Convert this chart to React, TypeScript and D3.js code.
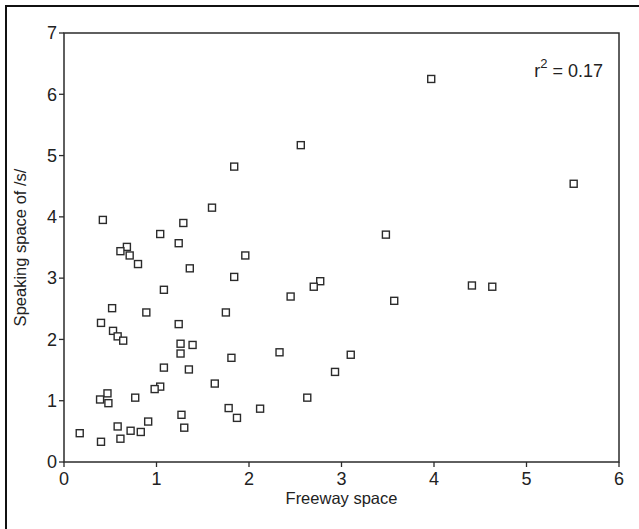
import React from 'react';
import * as d3 from 'd3';

const width = 639;
const height = 529;
const margin = { top: 33, right: 20, bottom: 67, left: 64 };

// freeway space (x) and speaking space of /s/ (y)
const freeway = [
  1.60, 0.42, 1.29, 1.04, 1.24, 0.68, 0.61, 0.71, 1.96, 0.80,
  1.36, 1.84, 1.08, 0.52, 0.89, 1.75, 0.40, 1.24, 0.53, 0.58,
  0.64, 1.26, 1.39, 1.26, 1.81, 1.08, 1.35, 1.63, 1.04, 0.98,
  0.47, 0.39, 0.48, 0.77, 1.78, 1.87, 1.27, 0.91, 0.58, 1.30,
  0.72, 0.83, 0.17, 0.40, 0.61,
  3.97, 2.56, 1.84, 5.51, 3.48, 2.77, 2.70, 2.45, 4.41, 4.63,
  3.57, 2.33, 3.10, 2.93, 2.63, 2.12
];
const speaking = [
  4.15, 3.95, 3.90, 3.72, 3.57, 3.51, 3.44, 3.37, 3.37, 3.23,
  3.16, 3.02, 2.81, 2.51, 2.44, 2.44, 2.27, 2.25, 2.14, 2.05,
  1.98, 1.93, 1.91, 1.77, 1.70, 1.54, 1.51, 1.28, 1.23, 1.19,
  1.12, 1.02, 0.96, 1.05, 0.88, 0.72, 0.77, 0.66, 0.58, 0.56,
  0.51, 0.49, 0.47, 0.33, 0.38,
  6.25, 5.17, 4.82, 4.54, 3.71, 2.95, 2.86, 2.70, 2.88, 2.86,
  2.63, 1.79, 1.75, 1.47, 1.05, 0.87
];
const xTicks = [0, 1, 2, 3, 4, 5, 6];
const yTicks = [0, 1, 2, 3, 4, 5, 6, 7];

const ink = '#2b2b2b';
const font = '"Liberation Sans", Arial, sans-serif';

const App = () => {
  const innerW = width - margin.left - margin.right;
  const innerH = height - margin.top - margin.bottom;

  const x = d3.scaleLinear().domain([0, 6]).range([0, innerW]);
  const y = d3.scaleLinear().domain([0, 7]).range([innerH, 0]);

  const points = freeway.map((fx, i) => ({ fx, sy: speaking[i] }));
  const s = 7;

  return (
    <svg width={width} height={height} style={{ position: 'absolute', left: 0, top: 0, background: '#fff' }}>
      {/* outer frame (only left and top edges show) */}
      <line x1={6} y1={5} x2={6} y2={height} stroke="#111" strokeWidth={2} />
      <line x1={5} y1={6} x2={width} y2={6} stroke="#111" strokeWidth={2} />

      <g transform={`translate(${margin.left},${margin.top})`}>
        <rect x={0} y={0} width={innerW} height={innerH} fill="none" stroke={ink} strokeWidth={1.5} />

        {/* x ticks */}
        {xTicks.map(t => (
          <g key={'x' + t} transform={`translate(${x(t)},${innerH})`}>
            <line y1={0} y2={5} stroke={ink} strokeWidth={1.3} />
            <text y={23} textAnchor="middle" fontSize={18} fontFamily={font} fill="#222">{t}</text>
          </g>
        ))}

        {/* y ticks */}
        {yTicks.map(t => (
          <g key={'y' + t} transform={`translate(0,${y(t)})`}>
            <line x1={0} x2={-5} stroke={ink} strokeWidth={1.3} />
            <text x={-7} dy="0.35em" textAnchor="end" fontSize={18} fontFamily={font} fill="#222">{t}</text>
          </g>
        ))}

        {/* points */}
        {points.map((d, i) => (
          <rect
            key={i}
            x={x(d.fx) - s / 2}
            y={y(d.sy) - s / 2}
            width={s}
            height={s}
            fill="#fff"
            stroke={ink}
            strokeWidth={1.4}
          />
        ))}

        <text x={innerW - 16} y={44} textAnchor="end" fontSize={18} fontFamily={font} fill="#222">
          r<tspan dy={-9} fontSize={13}>2</tspan><tspan dy={9}> = 0.17</tspan>
        </text>

        <text x={innerW / 2} y={innerH + 42} textAnchor="middle" fontSize={16.5} fontFamily={font} fill="#222">
          Freeway space
        </text>
        <text
          transform={`translate(${-margin.left + 26},${innerH / 2}) rotate(-90)`}
          textAnchor="middle"
          fontSize={16.5}
          fontFamily={font}
          fill="#222"
        >
          Speaking space of /s/
        </text>
      </g>
    </svg>
  );
};

export default App;
